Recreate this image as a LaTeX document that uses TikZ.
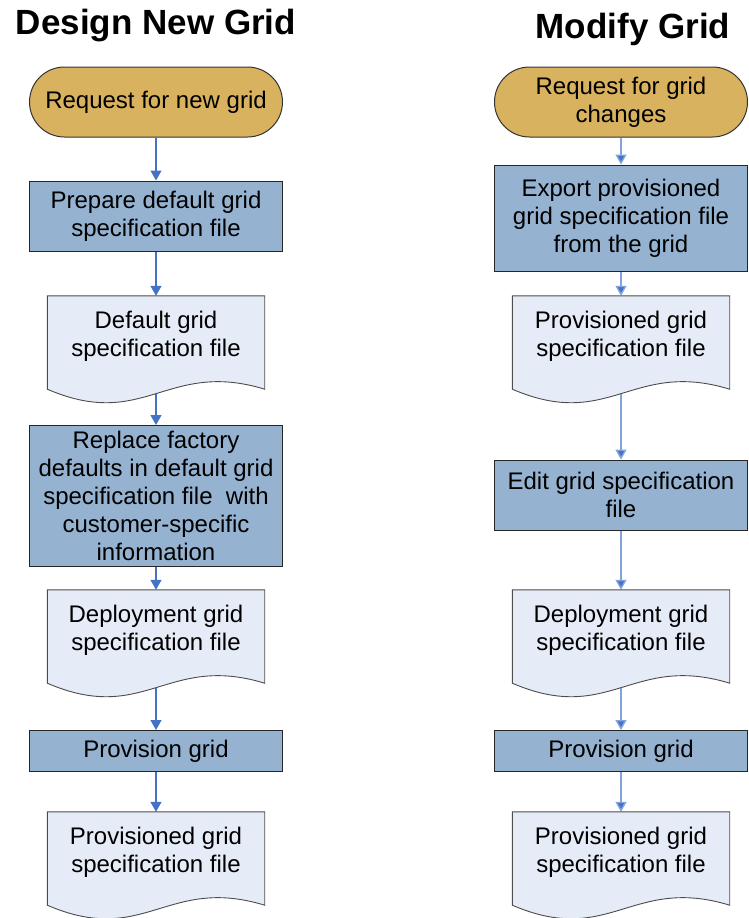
\documentclass[tikz,border=0pt]{standalone}
\usepackage{fontspec}
\setmainfont{Liberation Sans}
\usetikzlibrary{arrows.meta,calc}

\definecolor{termfill}{RGB}{217,178,95}
\definecolor{procfill}{RGB}{149,179,208}
\definecolor{docfill}{RGB}{230,236,247}
\definecolor{flowblue}{RGB}{68,114,196}
\definecolor{flowlight}{RGB}{130,164,220}

% connectors sit below the document shapes, text sits on top
\pgfdeclarelayer{conn}
\pgfdeclarelayer{shapes}
\pgfsetlayers{conn,shapes,main}

% document outline with a wavy bottom edge, built around a text node
\newcommand\docoutline[1]{%
  \begin{pgfonlayer}{shapes}
    \draw[docline] (#1.north west) -- (#1.north east)
      -- ($(#1.south east)+(0,13)$)
      .. controls ($(#1.south west)+(119.35,-17)$) and ($(#1.south west)+(97.65,55)$)
      .. ($(#1.south west)+(0,13)$) -- cycle;
  \end{pgfonlayer}}

\begin{document}
\begin{tikzpicture}[x=1pt,y=-1pt,
  every node/.style={font=\fontsize{24}{28}\selectfont, align=center, inner sep=0pt},
  term/.style={draw=black!80, line width=1pt, fill=termfill, rounded corners=35pt,
    minimum width=253pt, minimum height=70pt},
  proc/.style={draw=black!85, line width=1pt, fill=procfill, minimum width=253pt},
  doc/.style={minimum width=217pt, minimum height=80pt},
  docline/.style={draw=black!70, line width=0.9pt, fill=docfill},
  flow/.style={draw=flowblue, line width=1.2pt, -{Triangle[width=11pt,length=10pt]}},
  flowr/.style={flow, draw=flowlight, line width=1.4pt, -{Triangle[width=11pt,length=10pt,fill=flowblue]}},
  title/.style={font=\fontsize{35}{40}\selectfont\bfseries, anchor=base}]

\useasboundingbox (0,0) rectangle (748,918);

% titles
\node[title] (titleL) at (156,34) {Design New Grid};
\node[title] (titleR) at (633,38) {Modify Grid};

% design new grid
\node[term] (reqL) at (156,102) {Request for new grid};
\node[proc, minimum height=70pt] (prepL) at (156,216) {Prepare default grid\\specification file};
\node[doc] (defL) at (156,336) {Default grid\\specification file};
\node[proc, minimum height=141pt] (replL) at (156,496)
  {Replace factory\\defaults in default grid\\specification file~ with\\customer-specific\\information};
\node[doc] (depL) at (156,630) {Deployment grid\\specification file};
\node[proc, minimum height=41pt] (provL) at (156,751) {Provision grid};
\node[doc] (outL) at (156,852) {Provisioned grid\\specification file};

% modify grid
\node[term] (reqR) at (621,102) {Request for grid\\changes};
\node[proc, minimum height=106pt] (expR) at (621,218) {Export provisioned\\grid specification file\\from the grid};
\node[doc] (inR) at (621,336) {Provisioned grid\\specification file};
\node[proc, minimum height=70pt] (editR) at (621,495) {Edit grid specification\\file};
\node[doc] (depR) at (621,630) {Deployment grid\\specification file};
\node[proc, minimum height=41pt] (provR) at (621,751) {Provision grid};
\node[doc] (outR) at (621,852) {Provisioned grid\\specification file};

\docoutline{defL}
\docoutline{depL}
\docoutline{outL}
\docoutline{inR}
\docoutline{depR}
\docoutline{outR}

\begin{pgfonlayer}{conn}
  \draw[flow] (reqL.south) -- (prepL.north);
  \draw[flow] (prepL.south) -- (defL.north);
  \draw[flow] (defL.south) -- (replL.north);
  \draw[flow] (replL.south) -- (depL.north);
  \draw[flow] (depL.south) -- (provL.north);
  \draw[flow] (provL.south) -- (outL.north);

  \draw[flowr] (reqR.south) -- (expR.north);
  \draw[flowr] (expR.south) -- (inR.north);
  \draw[flowr] (inR.south) -- (editR.north);
  \draw[flowr] (editR.south) -- (depR.north);
  \draw[flowr] (depR.south) -- (provR.north);
  \draw[flowr] (provR.south) -- (outR.north);
\end{pgfonlayer}
\end{tikzpicture}
\end{document}
